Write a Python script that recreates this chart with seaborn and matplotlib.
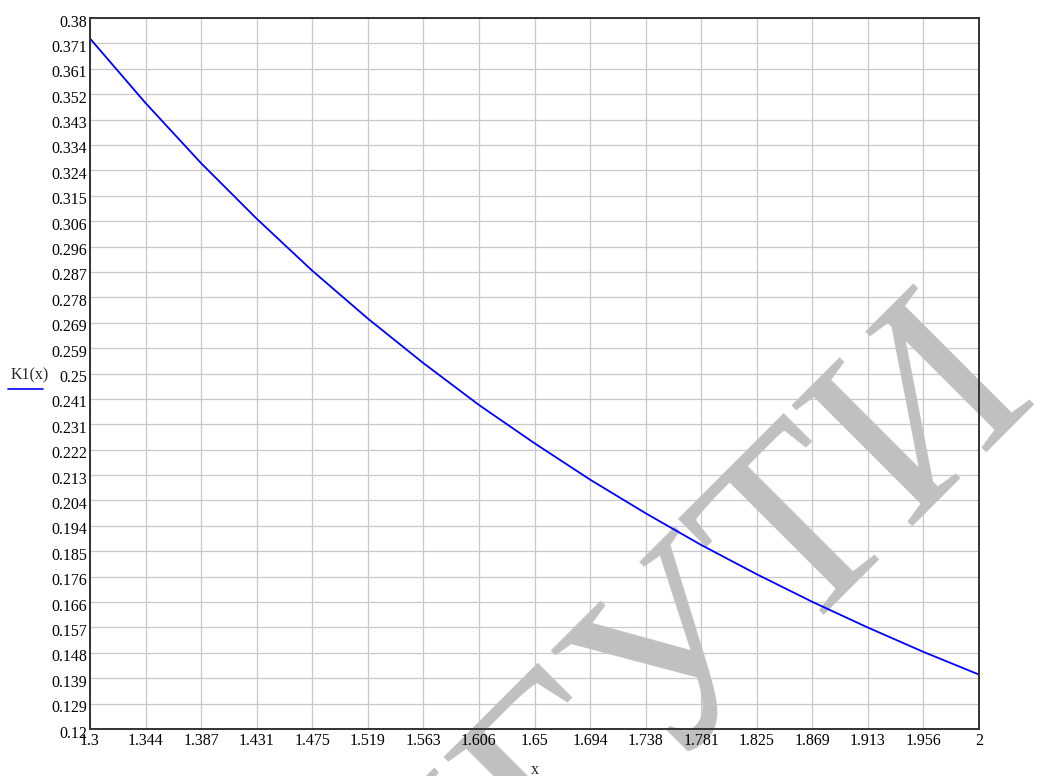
import numpy as np
import matplotlib
matplotlib.use("Agg")
import matplotlib.pyplot as plt
import matplotlib.transforms as mtransforms
from matplotlib.lines import Line2D
import seaborn as sns
import pandas as pd

# ---- data ----
x_vals = [1.3, 1.34375, 1.3875, 1.43125, 1.475, 1.51875, 1.5625, 1.60625, 1.65,
          1.69375, 1.7375, 1.78125, 1.825, 1.86875, 1.9125, 1.95625, 2.0]
k1_vals = [0.3725, 0.3489, 0.3269, 0.3066, 0.2876, 0.2701, 0.2538, 0.2385, 0.2245,
           0.2112, 0.1989, 0.1873, 0.1766, 0.1665, 0.1571, 0.1482, 0.1399]
x_tick_labels = ["1.3", "1.344", "1.387", "1.431", "1.475", "1.519", "1.563", "1.606",
                 "1.65", "1.694", "1.738", "1.781", "1.825", "1.869", "1.913", "1.956", "2"]
y_tick_labels = ["0.12", "0.129", "0.139", "0.148", "0.157", "0.166", "0.176", "0.185",
                 "0.194", "0.204", "0.213", "0.222", "0.231", "0.241", "0.25", "0.259",
                 "0.269", "0.278", "0.287", "0.296", "0.306", "0.315", "0.324", "0.334",
                 "0.343", "0.352", "0.361", "0.371", "0.38"]
x_min, x_max = 1.3, 2.0
y_min, y_max = 0.12, 0.38
watermark_head = "ПГУ"
watermark_tail = "ТИ"

sns.set_style("white")
plt.rcParams["font.family"] = ["Liberation Serif", "DejaVu Serif"]

W, H = 1040, 776
fig = plt.figure(figsize=(W / 100, H / 100), dpi=100)
ax = fig.add_axes([90 / W, 1 - 729 / H, (979 - 90) / W, (729 - 18) / H])

df = pd.DataFrame({"x": x_vals, "K1": k1_vals})
sns.lineplot(data=df, x="x", y="K1", ax=ax, color="#0000ff", linewidth=1.3, zorder=5)

ax.set_xlim(x_min, x_max)
ax.set_ylim(y_min, y_max)
ax.set_xticks(np.linspace(x_min, x_max, len(x_tick_labels)))
ax.set_xticklabels(x_tick_labels)
ax.set_yticks(np.linspace(y_min, y_max, len(y_tick_labels)))
ax.set_yticklabels(y_tick_labels)
ax.tick_params(axis="both", length=0, labelsize=11.5, colors="black")
ax.tick_params(axis="x", pad=3.2)
ax.tick_params(axis="y", pad=2.0)
ax.grid(True, color="#c8c8c8", linewidth=0.9)
ax.set_axisbelow(True)
ax.set_xlabel("")
ax.set_ylabel("")
for name, sp in ax.spines.items():
    sp.set_visible(True)
    sp.set_color("#333333")
    sp.set_linewidth(1.4)
    sp.set_zorder(6)

# shift y tick labels slightly down like the reference
off = mtransforms.ScaledTranslation(0, -2.5 / 100, fig.dpi_scale_trans)
for lbl in ax.get_yticklabels():
    lbl.set_transform(lbl.get_transform() + off)

# ---- watermark (rotated grey serif letters) ----
wm_anchor = (794.5 / W, 1 - 640.5 / H)
wm_kw = dict(rotation=45, rotation_mode="anchor", va="baseline", fontsize=187,
             color="#c0c0c0", family=["Liberation Serif", "DejaVu Serif"])
# part outside the plotting area: behind the axes (labels stay on top)
fig.text(*wm_anchor, watermark_head, ha="right", zorder=-5, **wm_kw)
fig.text(*wm_anchor, watermark_tail, ha="left", zorder=-5, **wm_kw)
ax.patch.set_zorder(-10)
# part inside the plotting area: above the grid, below the curve
t1 = ax.text(*wm_anchor, watermark_head, ha="right", transform=fig.transFigure,
             zorder=2, clip_on=True, **wm_kw)
t2 = ax.text(*wm_anchor, watermark_tail, ha="left", transform=fig.transFigure,
             zorder=2, clip_on=True, **wm_kw)
t1.set_clip_path(ax.patch)
t2.set_clip_path(ax.patch)

# y label with legend line
fig.text(11 / W, 1 - 379.5 / H, "K1(x)", ha="left", va="baseline", fontsize=11.5)
fig.add_artist(Line2D([8.3 / W, 42.7 / W], [1 - 389.3 / H, 1 - 389.3 / H],
                      transform=fig.transFigure, color="#0000ff", linewidth=1.2))
# x label
fig.text(535 / W, 1 - 774.5 / H, "x", ha="center", va="baseline", fontsize=11.5)

fig.savefig("out.png", dpi=100)
